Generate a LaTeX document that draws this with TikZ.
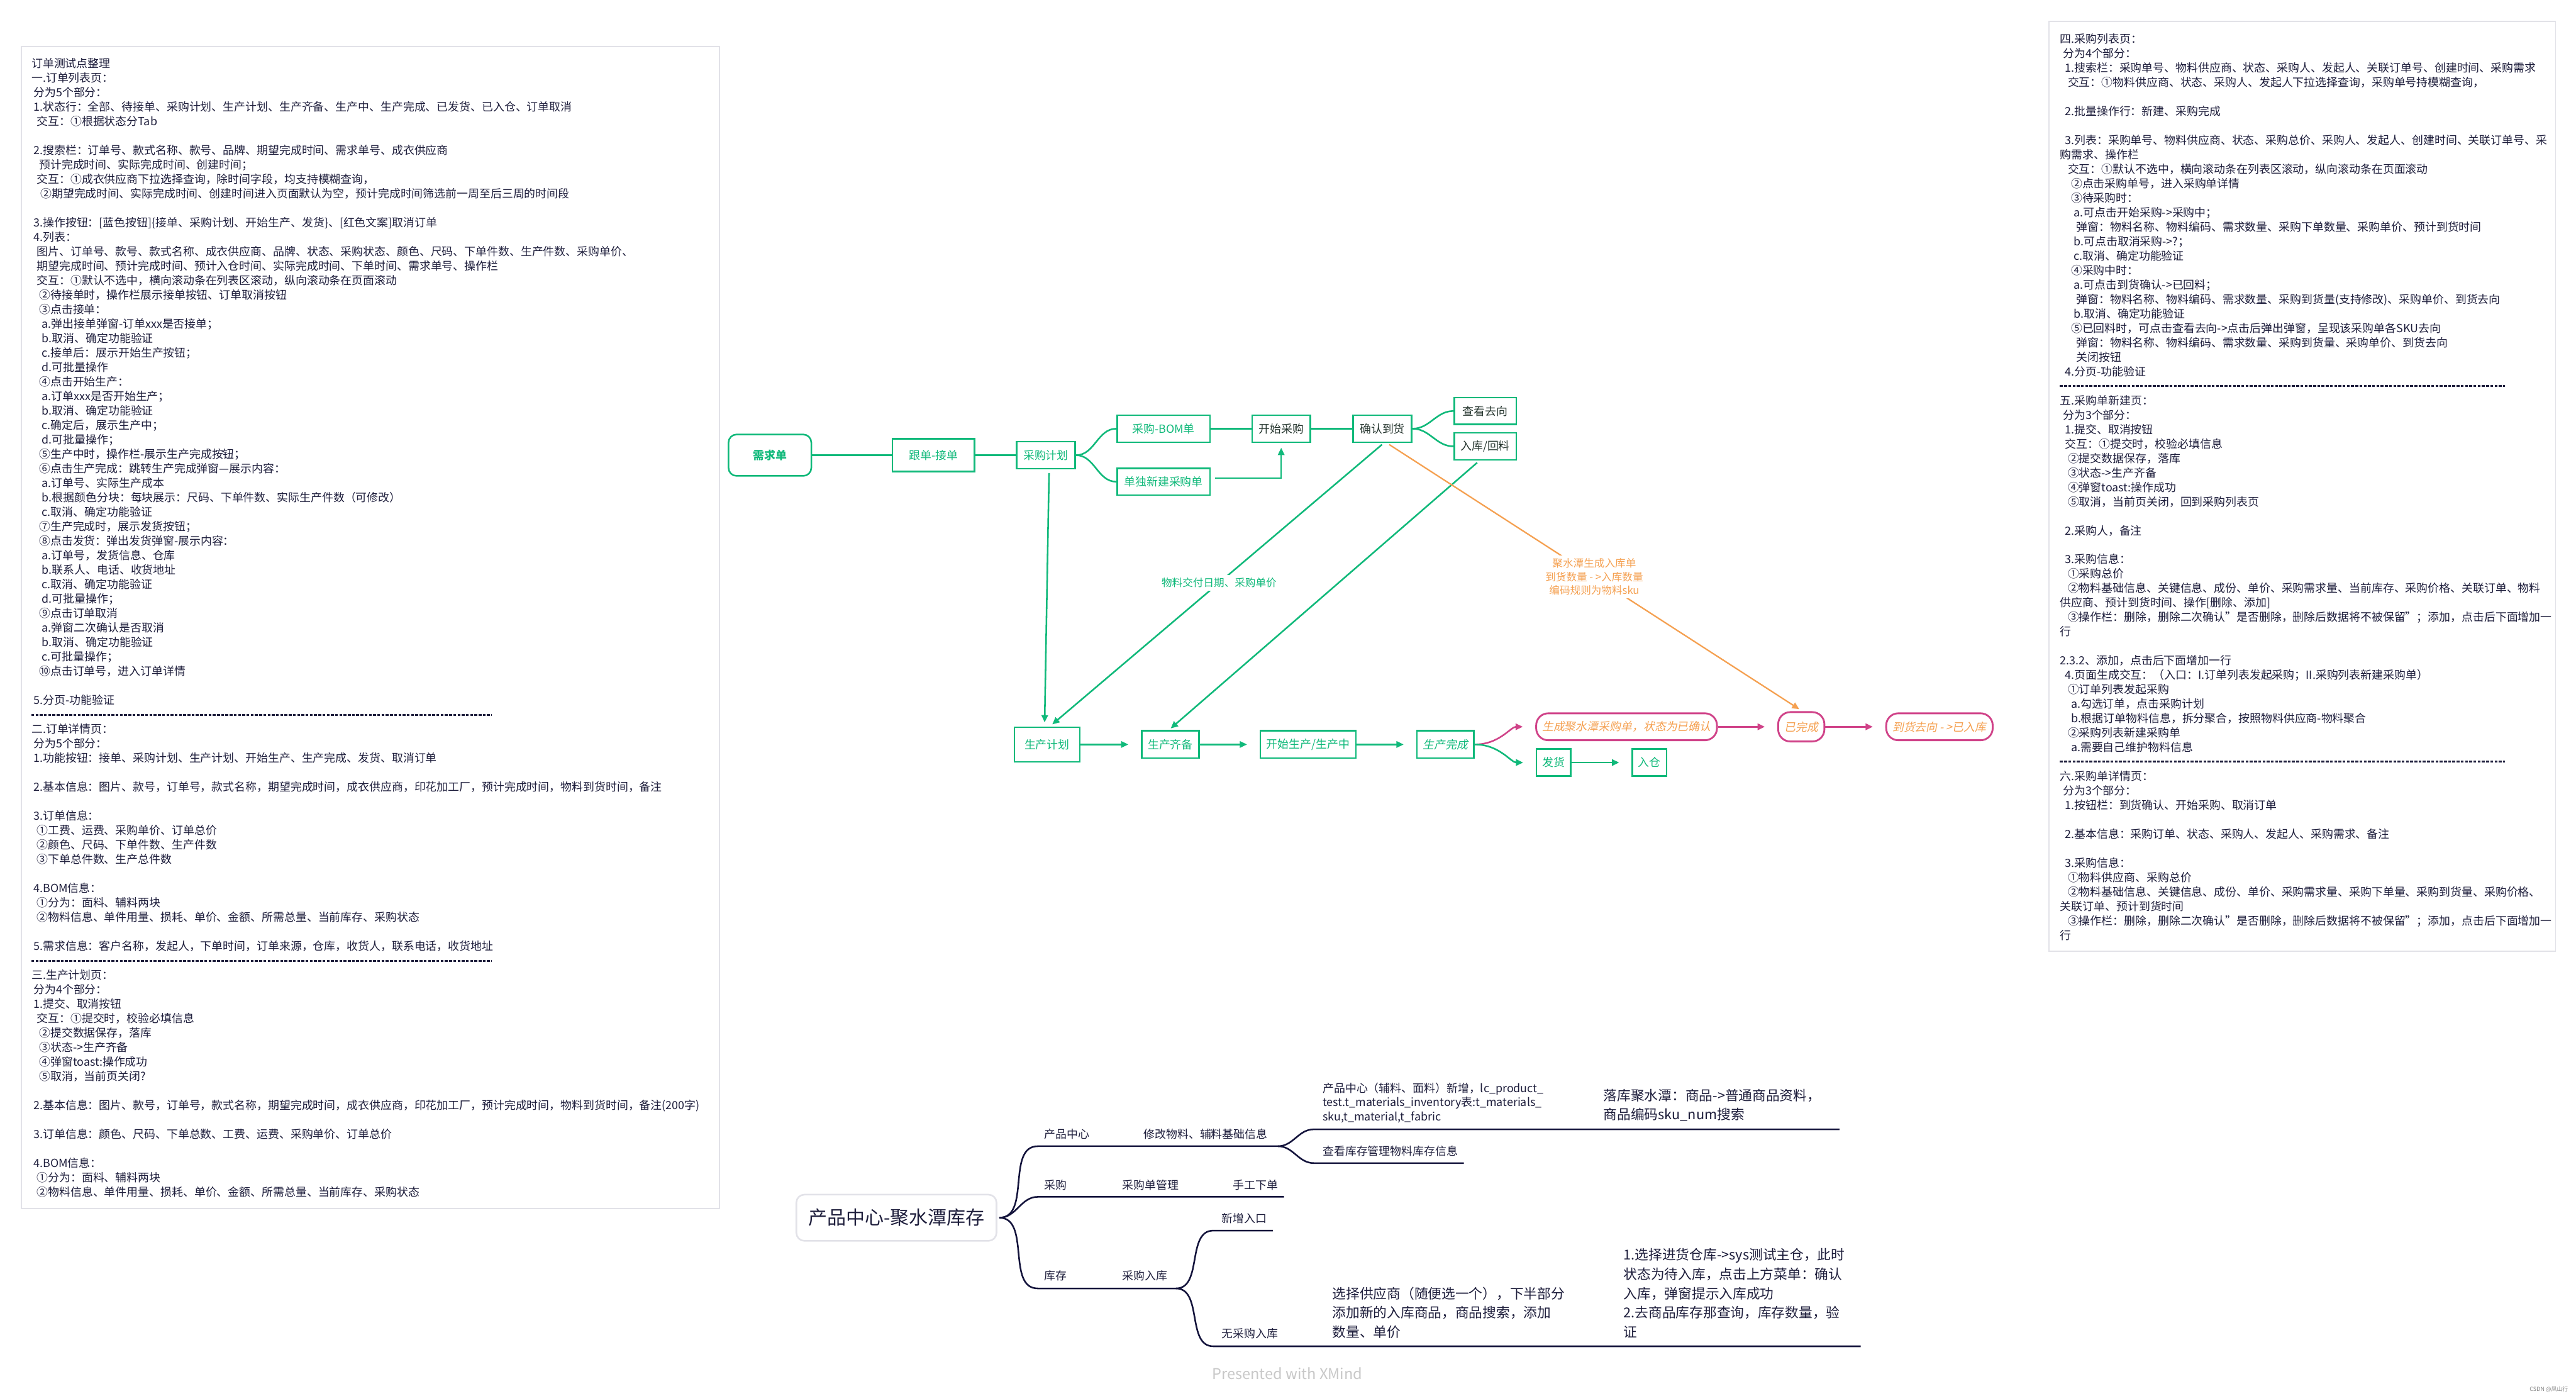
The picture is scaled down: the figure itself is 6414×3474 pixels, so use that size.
\documentclass[tikz,border=0pt]{standalone}
\usepackage{fontspec}
\setmainfont{Noto Sans CJK SC}
\newfontfamily\slantfont[FakeSlant=0.2]{Noto Sans CJK SC}
\usetikzlibrary{arrows.meta}
\definecolor{gr}{HTML}{10B97A}
\definecolor{dk}{HTML}{23332C}
\definecolor{pk}{HTML}{D04389}
\definecolor{og}{HTML}{F5A050}
\definecolor{tx}{HTML}{1E1E3C}
\definecolor{ml}{HTML}{14143C}
\definecolor{pn}{HTML}{E2E2E8}
\definecolor{xm}{HTML}{C8C8C8}
\newcommand\fA{\fontsize{7.97pt}{9.96pt}\selectfont}
\newcommand\fB{\fontsize{9.67pt}{13.66pt}\selectfont}
\newcommand\fC{\fontsize{7.4pt}{9.67pt}\selectfont}
\tikzset{
  ptxt/.style={font=\fA, text=tx, inner sep=0pt},
  panel/.style={draw=pn, line width=0.03cm},
  sepline/.style={draw=tx, line width=0.045cm, dash pattern=on 0.07cm off 0.035cm},
  gbox/.style={draw=gr, line width=0.04cm, inner sep=0pt, font=\fA, text=gr},
  pbox/.style={draw=pk, line width=0.045cm, rounded corners=0.3cm, inner sep=0pt, text=og, font=\slantfont\fA},
  gline/.style={draw=gr, line width=0.04cm},
  garrow/.style={draw=gr, line width=0.04cm, -{Triangle[length=0.18cm,width=0.16cm]}},
  parrow/.style={draw=pk, line width=0.04cm, -{Triangle[length=0.18cm,width=0.16cm]}},
  oarrow/.style={draw=og, line width=0.035cm, -{Triangle[length=0.18cm,width=0.16cm]}},
  gapend/.style={shorten >=0.31cm},
  mline/.style={draw=ml, line width=0.04cm},
  mtxt/.style={font=\fA, text=tx, inner sep=0pt, anchor=west, align=left},
  btxt/.style={font=\fB, text=tx, inner sep=0pt, anchor=west, align=left},
}
\begin{document}
\begin{tikzpicture}[x=0.01cm, y=-0.01cm]
\fill[white] (0,0) rectangle (6414,3474);
\useasboundingbox (0,0) rectangle (6414,3474);

% ---------------- left panel ----------------
\draw[panel] (53,116) rectangle (1791,3008);
\foreach \ii/\xx/\txt in {
1/78/{订单测试点整理},
2/78/{一.订单列表页：},
3/83/{分为5个部分：},
4/83/{1.状态行：全部、待接单、采购计划、生产计划、生产齐备、生产中、生产完成、已发货、已入仓、订单取消},
5/91/{交互：①根据状态分Tab},
7/83/{2.搜索栏：订单号、款式名称、款号、品牌、期望完成时间、需求单号、成衣供应商},
8/97/{预计完成时间、实际完成时间、创建时间；},
9/91/{交互：①成衣供应商下拉选择查询，除时间字段，均支持模糊查询，},
10/100/{②期望完成时间、实际完成时间、创建时间进入页面默认为空，预计完成时间筛选前一周至后三周的时间段},
12/83/{3.操作按钮：[蓝色按钮]\{接单、采购计划、开始生产、发货\}、[红色文案]取消订单},
13/83/{4.列表：},
14/91/{图片、订单号、款号、款式名称、成衣供应商、品牌、状态、采购状态、颜色、尺码、下单件数、生产件数、采购单价、},
15/91/{期望完成时间、预计完成时间、预计入仓时间、实际完成时间、下单时间、需求单号、操作栏},
16/91/{交互：①默认不选中，横向滚动条在列表区滚动，纵向滚动条在页面滚动},
17/97/{②待接单时，操作栏展示接单按钮、订单取消按钮},
18/97/{③点击接单：},
19/104/{a.弹出接单弹窗-订单xxx是否接单；},
20/104/{b.取消、确定功能验证},
21/104/{c.接单后：展示开始生产按钮；},
22/104/{d.可批量操作},
23/97/{④点击开始生产：},
24/104/{a.订单xxx是否开始生产；},
25/104/{b.取消、确定功能验证},
26/104/{c.确定后，展示生产中；},
27/104/{d.可批量操作；},
28/97/{⑤生产中时，操作栏-展示生产完成按钮；},
29/97/{⑥点击生产完成：跳转生产完成弹窗—展示内容：},
30/104/{a.订单号、实际生产成本},
31/104/{b.根据颜色分块：每块展示：尺码、下单件数、实际生产件数（可修改）},
32/104/{c.取消、确定功能验证},
33/97/{⑦生产完成时，展示发货按钮；},
34/97/{⑧点击发货：弹出发货弹窗-展示内容：},
35/104/{a.订单号，发货信息、仓库},
36/104/{b.联系人、电话、收货地址},
37/104/{c.取消、确定功能验证},
38/104/{d.可批量操作；},
39/97/{⑨点击订单取消},
40/104/{a.弹窗二次确认是否取消},
41/104/{b.取消、确定功能验证},
42/104/{c.可批量操作；},
43/97/{⑩点击订单号，进入订单详情},
45/83/{5.分页-功能验证},
47/78/{二.订单详情页：},
48/83/{分为5个部分：},
49/83/{1.功能按钮：接单、采购计划、生产计划、开始生产、生产完成、发货、取消订单},
51/83/{2.基本信息：图片、款号，订单号，款式名称，期望完成时间，成衣供应商，印花加工厂，预计完成时间，物料到货时间，备注},
53/83/{3.订单信息：},
54/91/{①工费、运费、采购单价、订单总价},
55/91/{②颜色、尺码、下单件数、生产件数},
56/91/{③下单总件数、生产总件数},
58/83/{4.BOM信息：},
59/91/{①分为：面料、辅料两块},
60/91/{②物料信息、单件用量、损耗、单价、金额、所需总量、当前库存、采购状态},
62/83/{5.需求信息：客户名称，发起人，下单时间，订单来源，仓库，收货人，联系电话，收货地址},
64/78/{三.生产计划页：},
65/83/{分为4个部分：},
66/83/{1.提交、取消按钮},
67/91/{交互：①提交时，校验必填信息},
68/97/{②提交数据保存，落库},
69/97/{③状态->生产齐备},
70/97/{④弹窗toast:操作成功},
71/97/{⑤取消，当前页关闭?},
73/83/{2.基本信息：图片、款号，订单号，款式名称，期望完成时间，成衣供应商，印花加工厂，预计完成时间，物料到货时间，备注(200字)},
75/83/{3.订单信息：颜色、尺码、下单总数、工费、运费、采购单价、订单总价},
77/83/{4.BOM信息：},
78/91/{①分为：面料、辅料两块},
79/91/{②物料信息、单件用量、损耗、单价、金额、所需总量、当前库存、采购状态}
}{\node[ptxt, anchor=base west] (L\ii) at (\xx,{169+36*(\ii-1)}) {\txt};}
\coordinate (ld1a) at (78,1780); \coordinate (ld1b) at (1224,1780);
\coordinate (ld2a) at (78,2392); \coordinate (ld2b) at (1224,2392);
\draw[sepline] (ld1a) -- (ld1b);
\draw[sepline] (ld2a) -- (ld2b);

% ---------------- right panel ----------------
\draw[panel] (5102,53) rectangle (6363,2368);
\foreach \ii/\xx/\txt in {
1/5129/{四.采购列表页：},
2/5136/{分为4个部分：},
3/5141/{1.搜索栏：采购单号、物料供应商、状态、采购人、发起人、关联订单号、创建时间、采购需求},
4/5148/{交互：①物料供应商、状态、采购人、发起人下拉选择查询，采购单号持模糊查询，},
6/5141/{2.批量操作行：新建、采购完成},
8/5141/{3.列表：采购单号、物料供应商、状态、采购总价、采购人、发起人、创建时间、关联订单号、采},
9/5129/{购需求、操作栏},
10/5148/{交互：①默认不选中，横向滚动条在列表区滚动，纵向滚动条在页面滚动},
11/5156/{②点击采购单号，进入采购单详情},
12/5156/{③待采购时：},
13/5163/{a.可点击开始采购->采购中；},
14/5169/{弹窗：物料名称、物料编码、需求数量、采购下单数量、采购单价、预计到货时间},
15/5163/{b.可点击取消采购->?；},
16/5163/{c.取消、确定功能验证},
17/5156/{④采购中时：},
18/5163/{a.可点击到货确认->已回料；},
19/5169/{弹窗：物料名称、物料编码、需求数量、采购到货量(支持修改)、采购单价、到货去向},
20/5163/{b.取消、确定功能验证},
21/5156/{⑤已回料时，可点击查看去向->点击后弹出弹窗，呈现该采购单各SKU去向},
22/5169/{弹窗：物料名称、物料编码、需求数量、采购到货量、采购单价、到货去向},
23/5169/{关闭按钮},
24/5141/{4.分页-功能验证},
26/5129/{五.采购单新建页：},
27/5136/{分为3个部分：},
28/5141/{1.提交、取消按钮},
29/5141/{交互：①提交时，校验必填信息},
30/5148/{②提交数据保存，落库},
31/5148/{③状态->生产齐备},
32/5148/{④弹窗toast:操作成功},
33/5148/{⑤取消，当前页关闭，回到采购列表页},
35/5141/{2.采购人，备注},
37/5141/{3.采购信息：},
38/5148/{①采购总价},
39/5148/{②物料基础信息、关键信息、成份、单价、采购需求量、当前库存、采购价格、关联订单、物料},
40/5129/{供应商、预计到货时间、操作[删除、添加]},
41/5148/{③操作栏：删除，删除二次确认"是否删除，删除后数据将不被保留"；添加，点击后下面增加一},
42/5129/{行},
44/5129/{2.3.2、添加，点击后下面增加一行},
45/5141/{4.页面生成交互：（入口：I.订单列表发起采购；II.采购列表新建采购单）},
46/5148/{①订单列表发起采购},
47/5156/{a.勾选订单，点击采购计划},
48/5156/{b.根据订单物料信息，拆分聚合，按照物料供应商-物料聚合},
49/5148/{②采购列表新建采购单},
50/5156/{a.需要自己维护物料信息},
52/5129/{六.采购单详情页：},
53/5136/{分为3个部分：},
54/5141/{1.按钮栏：到货确认、开始采购、取消订单},
56/5141/{2.基本信息：采购订单、状态、采购人、发起人、采购需求、备注},
58/5141/{3.采购信息：},
59/5148/{①物料供应商、采购总价},
60/5148/{②物料基础信息、关键信息、成份、单价、采购需求量、采购下单量、采购到货量、采购价格、},
61/5129/{关联订单、预计到货时间},
62/5148/{③操作栏：删除，删除二次确认"是否删除，删除后数据将不被保留"；添加，点击后下面增加一},
63/5129/{行}
}{\node[ptxt, anchor=base west] (R\ii) at (\xx,{107+36*(\ii-1)}) {\txt};}
\coordinate (rd1a) at (5129,960); \coordinate (rd1b) at (6237,960);
\coordinate (rd2a) at (5129,1896); \coordinate (rd2b) at (6237,1896);
\draw[sepline] (rd1a) -- (rd1b);
\draw[sepline] (rd2a) -- (rd2b);

% ---------------- flowchart ----------------
\node[gbox, rounded corners=0.2cm, minimum width=2.06cm, minimum height=1.03cm, font=\bfseries\fA] (xqd) at (1917,1133) {需求单};
\node[gbox, minimum width=2.04cm, minimum height=0.82cm] (gd) at (2324,1133) {跟单-接单};
\node[gbox, minimum width=1.46cm, minimum height=0.67cm] (cgjh) at (2604,1133) {采购计划};
\node[gbox, minimum width=2.31cm, minimum height=0.67cm] (bom) at (2897,1067) {采购-BOM单};
\node[gbox, minimum width=2.31cm, minimum height=0.66cm] (ddxj) at (2897,1199) {单独新建采购单};
\node[gbox, text=dk, minimum width=1.45cm, minimum height=0.67cm] (kscg) at (3190,1067) {开始采购};
\node[gbox, text=dk, minimum width=1.46cm, minimum height=0.67cm] (qrdh) at (3442,1067) {确认到货};
\node[gbox, text=dk, minimum width=1.54cm, minimum height=0.67cm] (ckqx) at (3698,1023) {查看去向};
\node[gbox, text=dk, minimum width=1.54cm, minimum height=0.67cm] (rkhl) at (3698,1111) {入库/回料};
\node[gbox, minimum width=1.63cm, minimum height=0.86cm] (scjh) at (2607,1853) {生产计划};
\node[gbox, minimum width=1.43cm, minimum height=0.68cm] (scqb) at (2914,1853) {生产齐备};
\node[gbox, minimum width=2.38cm, minimum height=0.68cm] (scz) at (3257,1853) {开始生产/生产中};
\node[gbox, minimum width=1.42cm, minimum height=0.68cm, font=\slantfont\fA] (scwc) at (3599,1853) {生产完成};
\node[pbox, minimum width=4.5cm, minimum height=0.67cm] (jst) at (4050,1809) {生成聚水潭采购单，状态为已确认};
\node[pbox, minimum width=1.15cm, minimum height=0.73cm] (ywc) at (4485,1809) {已完成};
\node[pbox, minimum width=2.65cm, minimum height=0.67cm] (dhqx) at (4829,1809) {到货去向 - >已入库};
\node[gbox, minimum width=0.85cm, minimum height=0.67cm] (fh) at (3868,1898) {发货};
\node[gbox, minimum width=0.85cm, minimum height=0.67cm] (rc) at (4107,1898) {入仓};

\draw[gline] (xqd) -- (gd);
\draw[gline] (gd) -- (cgjh);
\draw[gline] (cgjh.east) to[out=0,in=180] (bom.west);
\draw[gline] (cgjh.east) to[out=0,in=180] (ddxj.west);
\draw[gline] (bom) -- (kscg);
\draw[gline] (kscg) -- (qrdh);
\draw[garrow] ([shift={(10,-9)}]ddxj.east) -| ([shift={(0,12)}]kscg.south);
\draw[gline] (qrdh.east) to[out=0,in=180] (ckqx.west);
\draw[gline] (qrdh.east) to[out=0,in=180] (rkhl.west);
\draw[garrow] ([shift={(8,9)}]cgjh.south) -- ([shift={(-6,-10)}]scjh.north);
\draw[garrow] ([shift={(-1,4)}]qrdh.south) -- node[pos=0.494, fill=white, inner sep=2pt, text=gr, font=\fC] (lb1) {物料交付日期、采购单价} ([shift={(13,-5)}]scjh.north);
\draw[garrow] ([shift={(-20,5)}]rkhl.south) -- ([shift={(1,-4)}]scqb.north);
\draw[oarrow] ([shift={(17,4)}]qrdh.south) -- node[pos=0.5, fill=white, inner sep=2pt, align=center, text=og, font=\fC] (lb2) {聚水潭生成入库单\\到货数量 - >入库数量\\编码规则为物料sku} ([shift={(-5,-5)}]ywc.north);
\draw[garrow, gapend] (scjh) -- (scqb);
\draw[garrow, gapend] (scqb) -- (scz);
\draw[garrow, gapend] (scz) -- (scwc);
\draw[parrow, gapend] (scwc.east) to[out=0,in=180] (jst.west);
\draw[garrow, gapend] (scwc.east) to[out=0,in=180] (fh.west);
\draw[parrow, gapend] (jst) -- (ywc);
\draw[parrow, gapend] (ywc) -- (dhqx);
\draw[garrow, gapend] (fh) -- (rc);

% ---------------- mind map ----------------
\node[draw=pn, line width=0.04cm, rounded corners=0.2cm, fill=white, minimum width=4.98cm, minimum height=1.15cm, inner sep=0pt, font=\fontsize{13.37pt}{13.37pt}\selectfont, text=tx] (root) at (2232,3031) {产品中心-聚水潭库存};
\coordinate (R) at ([shift={(5,0)}]root.east);
\coordinate (b1s) at (2584,2853); \coordinate (F1) at (3182,2853);
\coordinate (c1s) at (3271,2811); \coordinate (c1e) at (4580,2811);
\coordinate (c2s) at (3271,2895); \coordinate (c2e) at (3645,2895);
\coordinate (b2s) at (2584,2979); \coordinate (b2e) at (3197,2979);
\coordinate (b3s) at (2584,3207); \coordinate (F3) at (2928,3207);
\coordinate (d1s) at (3021,3063); \coordinate (d1e) at (3169,3063);
\coordinate (d2s) at (3021,3351); \coordinate (d2e) at (4633,3351);
\draw[mline] (R) to[out=0,in=180] (b1s) -- (F1);
\draw[mline] (F1) to[out=0,in=180] (c1s) -- (c1e);
\draw[mline] (F1) to[out=0,in=180] (c2s) -- (c2e);
\draw[mline] (R) to[out=0,in=180] (b2s) -- (b2e);
\draw[mline] (R) to[out=0,in=180] (b3s) -- (F3);
\draw[mline] (F3) to[out=0,in=180] (d1s) -- (d1e);
\draw[mline] (F3) to[out=0,in=180] (d2s) -- (d2e);

\node[mtxt] (m1) at (2600,2823) {产品中心};
\node[mtxt] (m2) at (2847,2823) {修改物料、辅料基础信息};
\node[mtxt] (m3) at (3293,2745) {产品中心（辅料、面料）新增，lc\_product\_\\test.t\_materials\_inventory表:t\_materials\_\\sku,t\_material,t\_fabric};
\node[btxt] (m4) at (3992,2751) {落库聚水潭：商品->普通商品资料，\\商品编码sku\_num搜索};
\node[mtxt] (m5) at (3293,2865) {查看库存管理物料库存信息};
\node[mtxt] (m6) at (2600,2949) {采购};
\node[mtxt] (m7) at (2794,2949) {采购单管理};
\node[mtxt] (m8) at (3070,2949) {手工下单};
\node[mtxt] (m9) at (2600,3176) {库存};
\node[mtxt] (m10) at (2794,3176) {采购入库};
\node[mtxt] (m11) at (3041,3033) {新增入口};
\node[mtxt] (m12) at (3041,3320) {无采购入库};
\node[btxt] (m13) at (3317,3267) {选择供应商（随便选一个），下半部分\\添加新的入库商品，商品搜索，添加\\数量、单价};
\node[btxt] (m14) at (4042,3219) {1.选择进货仓库->sys测试主仓，此时\\状态为待入库，点击上方菜单：确认\\入库，弹窗提示入库成功\\2.去商品库存那查询，库存数量，验\\证};

\node[font=\fontsize{10.5pt}{10.5pt}\selectfont, text=xm, inner sep=0pt] (pw) at (3205,3418) {Presented with XMind};
\node[font=\fontsize{4pt}{4pt}\selectfont, text=gray, inner sep=0pt, anchor=east] (wm) at (6395,3458) {CSDN @凤山行};
\end{tikzpicture}
\end{document}
